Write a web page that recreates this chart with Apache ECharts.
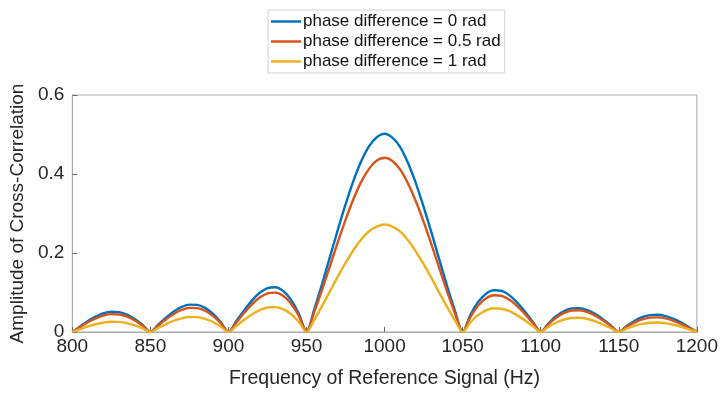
<!DOCTYPE html>
<html>
<head>
<meta charset="utf-8">
<script src="https://cdn.jsdelivr.net/npm/echarts@6/dist/echarts.min.js"></script>
<style>html,body{margin:0;padding:0;background:#fff}#c{width:721px;height:394px}</style>
</head>
<body>
<div id="c"></div>
<script>
var freq = [800,805,810,815,820,825,830,835,840,845,850,855,860,865,870,875,880,885,890,895,900,905,910,915,920,925,930,935,940,945,950,955,960,965,970,975,980,985,990,995,1000,1005,1010,1015,1020,1025,1030,1035,1040,1045,1050,1055,1060,1065,1070,1075,1080,1085,1090,1095,1100,1105,1110,1115,1120,1125,1130,1135,1140,1145,1150,1155,1160,1165,1170,1175,1180,1185,1190,1195,1200];
var seriesNames = ['phase difference = 0 rad','phase difference = 0.5 rad','phase difference = 1 rad'];
var phase0 = [0,0.014,0.028,0.039,0.0475,0.0514,0.0503,0.044,0.033,0.018,
  0,0.0185,0.0364,0.052,0.0634,0.0694,0.0688,0.061,0.0463,0.0255,
  0,0.0272,0.0546,0.0795,0.0993,0.1113,0.1134,0.104,0.082,0.047,
  0,0.058,0.122,0.19,0.258,0.323,0.382,0.432,0.470,0.493,
  0.502,0.492,0.468,0.428,0.377,0.317,0.252,0.184,0.117,0.055,
  0,0.0438,0.0764,0.097,0.1058,0.1039,0.0927,0.0742,0.051,0.0254,
  0,0.0222,0.0404,0.0532,0.0599,0.0605,0.0553,0.0453,0.0317,0.0162,
  0,0.0153,0.028,0.0374,0.0427,0.0437,0.0403,0.0334,0.0236,0.0121,0];
var phase05 = [0,0.0123,0.0246,0.0343,0.0418,0.0452,0.0443,0.0387,0.029,0.0158,
  0,0.0163,0.032,0.0458,0.0558,0.0611,0.0605,0.0537,0.0407,0.0224,
  0,0.0239,0.048,0.07,0.0874,0.0979,0.0998,0.0915,0.0722,0.0414,
  0,0.051,0.107,0.167,0.227,0.284,0.336,0.38,0.413,0.434,
  0.441,0.433,0.411,0.376,0.331,0.279,0.222,0.162,0.103,0.048,
  0,0.0385,0.0672,0.0854,0.0931,0.0914,0.0816,0.0653,0.0449,0.0224,
  0,0.0202,0.0368,0.0484,0.0545,0.0551,0.0503,0.0412,0.0288,0.0147,
  0,0.013,0.0238,0.0318,0.0363,0.0371,0.0343,0.0284,0.0201,0.0103,0];
var phase1 = [0,0.0071,0.0142,0.0197,0.024,0.026,0.0255,0.0223,0.0167,0.0091,
  0,0.0101,0.02,0.0285,0.0347,0.038,0.0377,0.0334,0.0254,0.014,
  0,0.0151,0.0304,0.0442,0.0552,0.0619,0.0631,0.0578,0.0456,0.0261,
  0,0.0314,0.0661,0.103,0.14,0.175,0.207,0.234,0.255,0.267,
  0.272,0.267,0.254,0.232,0.204,0.172,0.137,0.0997,0.0634,0.0298,
  0,0.0248,0.0433,0.055,0.06,0.0589,0.0526,0.0421,0.0289,0.0144,
  0,0.0132,0.024,0.0317,0.0356,0.036,0.0329,0.027,0.0189,0.0096,
  0,0.0084,0.0154,0.0206,0.0235,0.024,0.0222,0.0184,0.013,0.0067,0];
var colors = ['#0072BD','#D95319','#EDB120'];

function pairs(vals){ return freq.map(function(f,i){ return [f, vals[i]]; }); }
var font = 'Liberation Sans, Arial, Helvetica, sans-serif';
var chart = echarts.init(document.getElementById('c'), null, {renderer:'canvas'});
chart.setOption({
  animation:false,
  backgroundColor:'#fff',
  color: colors,
  legend:{
    orient:'vertical', left:268, top:10,
    icon:'rect', itemWidth:30, itemHeight:2.5, itemGap:3,
    padding:[3,4,3,3],
    borderColor:'#d4d4d4', borderWidth:1, backgroundColor:'#fff',
    textStyle:{fontFamily:font, fontSize:17, color:'#111', padding:[0,0,0,-3]},
    data: seriesNames
  },
  grid:{left:72, right:23, top:95, bottom:57, show:true, borderColor:'#aaa', borderWidth:1, backgroundColor:'transparent'},
  xAxis:{
    type:'value', min:800, max:1200, interval:50,
    name:'Frequency of Reference Signal (Hz)', nameLocation:'middle', nameGap:37,
    nameTextStyle:{fontFamily:font, fontSize:19.5, color:'#262626'},
    axisLine:{show:true, lineStyle:{color:'#aaa'}},
    axisTick:{show:true, inside:true, length:5, lineStyle:{color:'#666'}},
    axisLabel:{fontFamily:font, fontSize:19, color:'#262626', margin:5,
      formatter:function(v){ return String(v); }},
    splitLine:{show:false}
  },
  yAxis:{
    type:'value', min:0, max:0.6, interval:0.2,
    name:'Amplitude of Cross-Correlation', nameLocation:'middle', nameGap:45,
    nameTextStyle:{fontFamily:font, fontSize:19, color:'#262626'},
    axisLine:{show:true, lineStyle:{color:'#aaa'}},
    axisTick:{show:true, inside:true, length:5, lineStyle:{color:'#666'}},
    axisLabel:{fontFamily:font, fontSize:19, color:'#262626', margin:8,
      formatter:function(v){ return v===0 ? '0' : String(Math.round(v*10)/10); }},
    splitLine:{show:false}
  },
  series:[
    {name:seriesNames[0], type:'line', data:pairs(phase0), showSymbol:false, symbol:'none', smooth:0.3, lineStyle:{width:2.4, color:colors[0]}, z:3},
    {name:seriesNames[1], type:'line', data:pairs(phase05), showSymbol:false, symbol:'none', smooth:0.3, lineStyle:{width:2.4, color:colors[1]}, z:4},
    {name:seriesNames[2], type:'line', data:pairs(phase1), showSymbol:false, symbol:'none', smooth:0.3, lineStyle:{width:2.4, color:colors[2]}, z:5}
  ]
});
</script>
</body>
</html>
